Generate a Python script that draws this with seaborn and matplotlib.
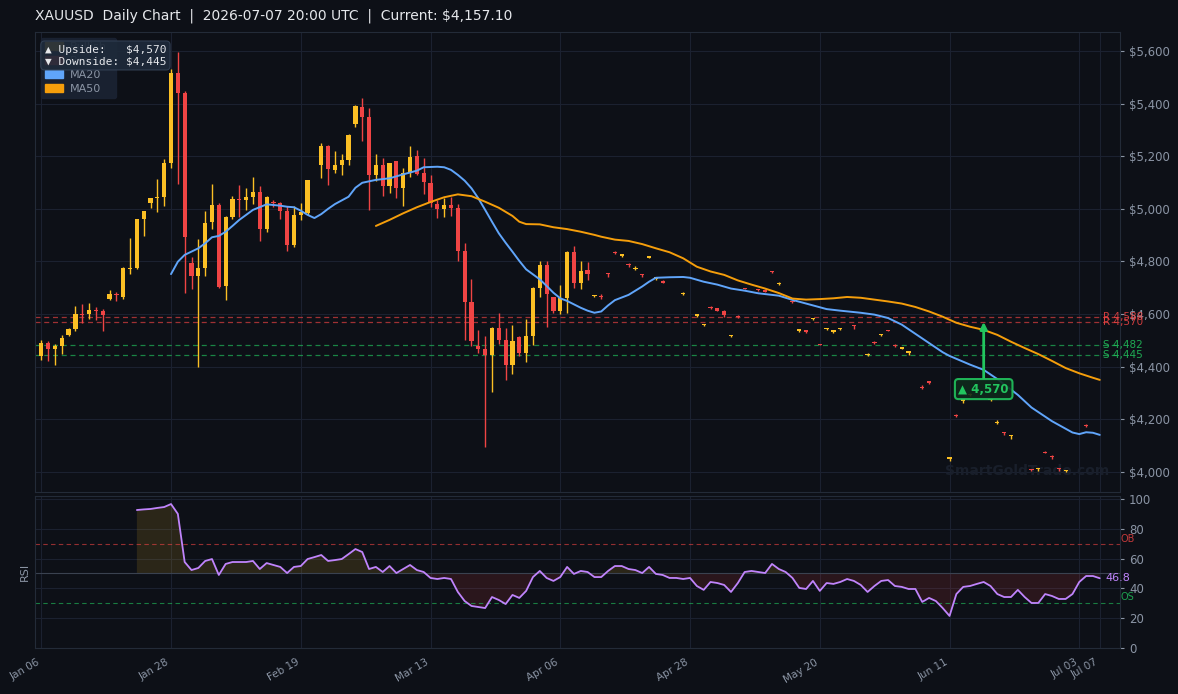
import numpy as np
import pandas as pd
import matplotlib
matplotlib.use("Agg")
import matplotlib.pyplot as plt
import seaborn as sns
from matplotlib.patches import Patch
from matplotlib.ticker import FuncFormatter

NaN = np.nan
# ---------------- data ----------------
opens = [4440, 4491, 4466, 4478, 4519, 4542, 4600, 4599, 4614, 4610,
         4656, 4675, 4666, 4770, 4776, 4960, 5021, 5040, 5045, 5173,
         5518, 5440, 4793, 4745, 4774, 4950, 5013, 4706, 4968, 5036,
         5033, 5045, 5063, 4922, 5027, 5023, 4990, 4862, 4976, 4986,
         NaN, 5167, 5239, 5148, 5167, 5186, 5321, 5386, 5349, 5128,
         5166, 5087, 5180, 5078, 5138, 5200, 5135, 5100, 5017, 4998,
         5013, 5002, 4840, 4646, 4479, 4466, 4444, 4547, 4500, 4406,
         4513, 4451, 4517, 4698, 4785, 4664, 4612, 4660, 4835, 4718,
         4766, 4668, 4670, 4757, 4836, 4822, 4791, 4772, 4753, 4814,
         4735, 4727, NaN, NaN, 4676, NaN, 4594, 4558, 4628, 4622,
         4613, 4515, 4593, 4700, NaN, 4694, 4692, 4763, 4715, NaN,
         4649, 4537, 4538, 4581, 4487, 4543, 4533, 4543, NaN, 4558,
         NaN, 4444, 4494, 4520, 4540, 4483, 4469, 4454, NaN, 4324,
         4344, NaN, NaN, 4048, 4217, 4271, 4294, NaN, NaN, 4273,
         4187, 4151, 4136, NaN, NaN, 4012, 4011, 4077, 4062, 4015,
         4002, NaN, NaN, 4180, NaN, NaN]
highs = [4500, 4497, 4485, 4519, 4547, 4630, 4637, 4643, 4627, 4620,
         4690, 4684, 4780, 4888, 4962, 4992, 5042, 5112, 5191, 5530,
         5596, 5448, 4818, 4884, 4992, 5093, 5021, 4973, 5049, 5090,
         5078, 5121, 5087, 5049, 5032, 5026, 5011, 5011, 5023, 5110,
         NaN, 5252, 5241, 5220, 5207, 5283, 5394, 5420, 5382, 5207,
         5195, 5176, 5181, 5157, 5237, 5223, 5192, 5128, 5034, 5041,
         5045, 5017, 4869, 4735, 4538, 4517, 4552, 4603, 4546, 4557,
         4517, 4580, 4702, 4800, 4800, 4664, 4709, 4840, 4859, 4800,
         4798, 4674, 4677, 4758, 4838, 4829, 4793, 4782, 4754, 4822,
         4741, 4728, NaN, NaN, 4684, NaN, 4600, 4564, 4630, 4624,
         4614, 4522, 4595, 4701, NaN, 4695, 4694, 4764, 4721, NaN,
         4650, 4543, 4540, 4587, 4488, 4549, 4539, 4549, NaN, 4559,
         NaN, 4451, 4496, 4526, 4541, 4485, 4475, 4460, NaN, 4330,
         4346, NaN, NaN, 4057, 4222, 4278, 4300, NaN, NaN, 4280,
         4197, 4152, 4141, NaN, NaN, 4013, 4016, 4078, 4063, 4016,
         4009, NaN, NaN, 4182, NaN, NaN]
lows = [4425, 4421, 4405, 4450, 4516, 4534, 4565, 4580, 4576, 4534,
        4652, 4650, 4658, 4751, 4770, 4897, 5002, 4988, 5011, 5155,
        5093, 4681, 4696, 4400, 4745, 4925, 4700, 4652, 4960, 4969,
        4995, 5017, 4878, 4912, 5007, 4960, 4840, 4854, 4956, 4975,
        NaN, 5119, 5091, 5135, 5128, 5166, 5311, 5258, 4996, 5106,
        5049, 5062, 5043, 5011, 5122, 5129, 5055, 5007, 4964, 4969,
        4973, 4802, 4500, 4479, 4451, 4095, 4304, 4485, 4349, 4371,
        4441, 4418, 4482, 4665, 4552, 4605, 4602, 4605, 4700, 4694,
        4730, 4664, 4657, 4742, 4830, 4818, 4778, 4766, 4740, 4812,
        4731, 4718, NaN, NaN, 4674, NaN, 4590, 4555, 4620, 4612,
        4588, 4512, 4585, 4694, NaN, 4688, 4683, 4757, 4712, NaN,
        4642, 4533, 4530, 4577, 4482, 4540, 4529, 4540, NaN, 4545,
        NaN, 4441, 4486, 4517, 4534, 4475, 4466, 4445, NaN, 4314,
        4336, NaN, NaN, 4042, 4208, 4262, 4290, NaN, NaN, 4271,
        4182, 4140, 4127, NaN, NaN, 4003, 4003, 4071, 4051, 4005,
        4000, NaN, NaN, 4172, NaN, NaN]
closes = [4491, 4466, 4477, 4510, 4542, 4599, 4596, 4614, 4611, 4598,
          4675, 4672, 4776, 4775, 4960, 4990, 5040, 5042, 5173, 5518,
          5442, 4893, 4745, 4774, 4947, 5014, 4704, 4968, 5036, 5034,
          5044, 5063, 4922, 5044, 5021, 4992, 4862, 4975, 4988, 5108,
          NaN, 5239, 5150, 5166, 5185, 5281, 5391, 5349, 5128, 5166,
          5087, 5176, 5078, 5138, 5196, 5134, 5102, 5024, 4998, 5013,
          5002, 4840, 4646, 4498, 4468, 4444, 4547, 4500, 4406, 4496,
          4451, 4515, 4698, 4785, 4675, 4612, 4661, 4836, 4718, 4762,
          4751, 4673, 4665, 4752, 4832, 4828, 4787, 4776, 4749, 4820,
          4740, 4720, NaN, NaN, 4682, NaN, 4599, 4563, 4623, 4613,
          4597, 4520, 4588, 4696, NaN, 4690, 4685, 4759, 4719, NaN,
          4645, 4542, 4533, 4586, 4484, 4548, 4538, 4548, NaN, 4554,
          NaN, 4449, 4489, 4525, 4536, 4478, 4474, 4459, NaN, 4320,
          4339, NaN, NaN, 4056, 4213, 4276, 4298, NaN, NaN, 4278,
          4191, 4147, 4140, NaN, NaN, 4008, 4015, 4073, 4058, 4011,
          4007, NaN, NaN, 4175, NaN, NaN]

ma20_idx = [19, 20, 21, 23, 24, 25, 26, 27, 28, 29, 31, 33, 35, 36, 37, 38, 39, 40,
            41, 42, 43, 45, 46, 47, 49, 51, 53, 55, 56, 58, 59, 60, 61, 62, 63, 64,
            65, 66, 67, 68, 69, 70, 71, 72, 73, 74, 75, 76, 77, 78, 79, 80, 81, 82,
            83, 84, 86, 88, 89, 90, 92, 94, 95, 97, 99, 101, 103, 105, 108, 110,
            112, 115, 117, 120, 122, 124, 126, 128, 130, 132, 133, 136, 138, 140,
            143, 145, 148, 151, 152, 153, 154, 155]
ma20_val = [4752, 4799, 4825, 4850, 4869, 4892, 4897, 4913, 4935, 4958, 4996, 5017,
            5012, 5008, 5006, 4993, 4977, 4965, 4980, 5000, 5018, 5046, 5080, 5099,
            5110, 5116, 5131, 5145, 5158, 5160, 5158, 5148, 5129, 5107, 5078, 5040,
            4996, 4951, 4907, 4871, 4837, 4802, 4770, 4751, 4732, 4707, 4681, 4660,
            4650, 4637, 4624, 4613, 4605, 4610, 4633, 4653, 4673, 4705, 4723, 4738,
            4740, 4741, 4738, 4723, 4712, 4697, 4689, 4679, 4670, 4654, 4640, 4619,
            4613, 4605, 4598, 4585, 4560, 4525, 4490, 4455, 4441, 4408, 4388, 4353,
            4293, 4245, 4193, 4150, 4144, 4151, 4149, 4141]
ma50_idx = [49, 51, 53, 55, 57, 59, 61, 63, 65, 67, 69, 70, 71, 73, 75, 77, 79, 81,
            82, 84, 86, 88, 90, 92, 94, 96, 98, 100, 102, 104, 106, 108, 110, 112,
            114, 116, 118, 120, 122, 124, 126, 128, 130, 132, 134, 136, 138, 140,
            142, 144, 146, 148, 150, 152, 154, 155]
ma50_val = [4935, 4958, 4983, 5006, 5026, 5044, 5055, 5048, 5027, 5004, 4973, 4951,
            4942, 4941, 4930, 4923, 4913, 4901, 4894, 4883, 4878, 4866, 4850, 4835,
            4812, 4780, 4762, 4749, 4728, 4712, 4697, 4680, 4659, 4655, 4657, 4660,
            4665, 4662, 4655, 4648, 4640, 4627, 4610, 4590, 4567, 4552, 4540, 4521,
            4495, 4471, 4448, 4422, 4395, 4375, 4358, 4350]
rsi_start = 14
rsi_val = [92.6, 93.0, 93.3, 94.0, 94.6, 96.6, 90.0, 57.7, 52.3, 53.7, 58.4, 59.7,
           49.0, 56.4, 57.7, 57.7, 57.7, 58.4, 53.0, 57.0, 55.7, 54.4, 50.3, 54.4,
           55.0, 59.7, 61.0, 62.4, 58.4, 59.0, 59.7, 63.0, 66.4, 64.4, 53.0, 54.4,
           51.0, 55.0, 50.3, 53.0, 55.7, 52.3, 51.0, 47.0, 46.3, 47.0, 46.3, 37.6,
           31.5, 28.2, 27.5, 26.8, 34.2, 32.2, 29.5, 35.6, 33.6, 38.3, 47.6, 51.7,
           47.0, 45.0, 47.6, 54.4, 49.7, 51.7, 51.0, 47.6, 47.6, 51.7, 55.0, 55.0,
           53.0, 52.3, 50.3, 54.4, 49.7, 49.0, 47.0, 47.0, 46.3, 47.0, 41.6, 39.0,
           44.3, 43.6, 42.3, 37.6, 43.6, 51.0, 51.7, 51.0, 50.3, 56.4, 53.0, 51.0,
           47.0, 40.3, 39.6, 45.0, 38.3, 43.6, 43.0, 44.3, 46.3, 45.0, 42.3, 37.6,
           41.6, 45.0, 45.6, 41.6, 41.0, 39.6, 39.6, 30.9, 33.6, 31.5, 26.8, 21.5,
           36.2, 41.0, 41.6, 43.0, 44.3, 41.6, 36.2, 34.2, 34.2, 39.0, 34.2, 30.2,
           30.2, 36.2, 34.9, 32.9, 32.9, 36.2, 44.3, 48.3, 48.3, 46.8]

tick_pos = [0, 19, 38, 57, 76, 95, 114, 133, 152, 155]
tick_lab = ["Jan 06", "Jan 28", "Feb 19", "Mar 13", "Apr 06", "Apr 28",
            "May 20", "Jun 11", "Jul 03", "Jul 07"]
resist = [4588, 4570]
support = [4482, 4445]
target = 4570
title = "XAUUSD  Daily Chart  |  2026-07-07 20:00 UTC  |  Current: $4,157.10"

# ---------------- style ----------------
BG = "#0d1017"
AXBG = "#0d1017"
GRID = "#1b2130"
SPINE = "#232b38"
TXT = "#8b95a5"
BULL = "#fbbf24"
BEAR = "#ef4444"
BLUE = "#60a5fa"
ORANGE = "#f59e0b"
GREEN = "#22c55e"
PURPLE = "#c084fc"

sns.set_theme(style="dark")
plt.rcParams["font.family"] = ["DejaVu Sans"]
plt.rcParams["axes.facecolor"] = AXBG
plt.rcParams["figure.facecolor"] = BG

df = pd.DataFrame({"o": opens, "h": highs, "l": lows, "c": closes})
df["x"] = np.arange(len(df))

fig = plt.figure(figsize=(11.78, 6.94), dpi=100, facecolor=BG)
ax = fig.add_axes([0.0301, 0.2911, 0.9206, 0.6628])
ax2 = fig.add_axes([0.0301, 0.0663, 0.9206, 0.2190], sharex=ax)

for a in (ax, ax2):
    a.set_facecolor(AXBG)
    for s in a.spines.values():
        s.set_color(SPINE)
        s.set_linewidth(0.8)
    a.grid(True, color=GRID, linewidth=0.8)
    a.yaxis.tick_right()
    a.tick_params(colors=TXT, labelsize=8.5, length=3, width=0.8, direction="out")
    a.set_axisbelow(True)

# candles
d = df.dropna()
up = d[d.c >= d.o]
dn = d[d.c < d.o]
for sub, col in ((up, BULL), (dn, BEAR)):
    ax.vlines(sub.x, sub.l, sub.h, color=col, linewidth=1, zorder=2)
    body = np.maximum((sub.c - sub.o).abs(), 4)
    ax.bar(sub.x, body, bottom=np.minimum(sub.o, sub.c), width=0.62,
           color=col, linewidth=0, zorder=3)

# moving averages
sns.lineplot(x=ma20_idx, y=ma20_val, ax=ax, color=BLUE, linewidth=1.4, zorder=4)
sns.lineplot(x=ma50_idx, y=ma50_val, ax=ax, color=ORANGE, linewidth=1.4, zorder=4)

# levels
for r in resist:
    ax.axhline(r, color=BEAR, linestyle=(0, (4, 3)), linewidth=0.9, alpha=0.65, zorder=1)
    ax.text(155.5, r, f"R {r:,}", color=BEAR, fontsize=7.5, va="center", ha="left",
            alpha=0.85, zorder=5)
for s in support:
    ax.axhline(s, color=GREEN, linestyle=(0, (4, 3)), linewidth=0.9, alpha=0.65, zorder=1)
    ax.text(155.5, s, f"S {s:,}", color=GREEN, fontsize=7.5, va="center", ha="left",
            alpha=0.85, zorder=5)

# target annotation
ax.annotate(f"▲ {target:,}", xy=(138, target), xytext=(138, 4315),
            ha="center", va="center", fontsize=8.5, fontweight="bold", color=GREEN,
            bbox=dict(boxstyle="round,pad=0.3", fc="#0f2a1c", ec=GREEN, lw=1.5, alpha=0.9),
            arrowprops=dict(arrowstyle="-|>", color=GREEN, lw=2, shrinkA=0, shrinkB=0,
                            mutation_scale=10),
            zorder=6)

ax.set_ylim(3924, 5672)
ax.set_xlim(-0.85, 157.95)
ax.set_yticks(range(4000, 5601, 200))
ax.yaxis.set_major_formatter(FuncFormatter(lambda v, p: f"${v:,.0f}"))
ax.set_xticks(tick_pos)
ax.tick_params(axis="x", labelbottom=False)
ax.set_xlabel("")
ax.set_ylabel("")

# watermark
ax.text(0.99, 0.03, "SmartGoldTrade.com", transform=ax.transAxes, ha="right", va="bottom",
        fontsize=10, fontweight="bold", color="#191f2b", zorder=1)

# legend
handles = [Patch(color=BULL, label="Bullish"), Patch(color=BEAR, label="Bearish"),
           Patch(color=BLUE, label="MA20"), Patch(color=ORANGE, label="MA50")]
leg = ax.legend(handles=handles, loc="upper left", fontsize=8, frameon=True,
                facecolor="#1a2232", edgecolor="#1a2232", labelcolor=TXT,
                borderaxespad=0.5, labelspacing=0.35, handlelength=1.6,
                handletextpad=0.6, handleheight=0.7)
leg.get_frame().set_alpha(0.95)
leg.set_zorder(7)

ax.text(0.0085, 0.972, "▲ Upside:   $4,570\n▼ Downside: $4,445", transform=ax.transAxes,
        ha="left", va="top", fontsize=8, family="DejaVu Sans Mono", color="#e5e7eb",
        linespacing=1.15, zorder=8,
        bbox=dict(boxstyle="round,pad=0.35", fc="#1e2a3a", ec="#334155", lw=0.8, alpha=0.92))

ax.set_title(title, loc="left", color="#e5e7eb", fontsize=10, pad=9)

# RSI panel
rsi_x = list(range(rsi_start, rsi_start + len(rsi_val)))
r = np.array(rsi_val)
ax2.fill_between(rsi_x, r, 50, where=r >= 50, interpolate=True, color=BULL, alpha=0.13,
                 linewidth=0)
ax2.fill_between(rsi_x, r, 50, where=r < 50, interpolate=True, color=BEAR, alpha=0.13,
                 linewidth=0)
ax2.axhline(50, color="#3a4250", linewidth=0.8)
ax2.axhline(70, color=BEAR, linestyle=(0, (4, 3)), linewidth=0.8, alpha=0.6)
ax2.axhline(30, color=GREEN, linestyle=(0, (4, 3)), linewidth=0.8, alpha=0.6)
sns.lineplot(x=rsi_x, y=rsi_val, ax=ax2, color=PURPLE, linewidth=1.3)
ax2.text(1.0005, 73, "OB", transform=ax2.get_yaxis_transform(), color=BEAR, fontsize=7,
         va="center", ha="left", alpha=0.8)
ax2.text(1.0005, 34, "OS", transform=ax2.get_yaxis_transform(), color=GREEN, fontsize=7,
         va="center", ha="left", alpha=0.8)
ax2.text(155.9, rsi_val[-1], f"{rsi_val[-1]:.1f}", color=PURPLE, fontsize=8,
         va="center", ha="left")
ax2.set_ylim(0, 102)
ax2.set_yticks(range(0, 101, 20))
ax2.set_ylabel("RSI", color=TXT, fontsize=8)
ax2.set_xlabel("")
ax2.set_xticks(tick_pos)
ax2.set_xticklabels(tick_lab, rotation=30, ha="right", fontsize=7.5, color=TXT)

fig.savefig("out.png", dpi=100, facecolor=BG)
